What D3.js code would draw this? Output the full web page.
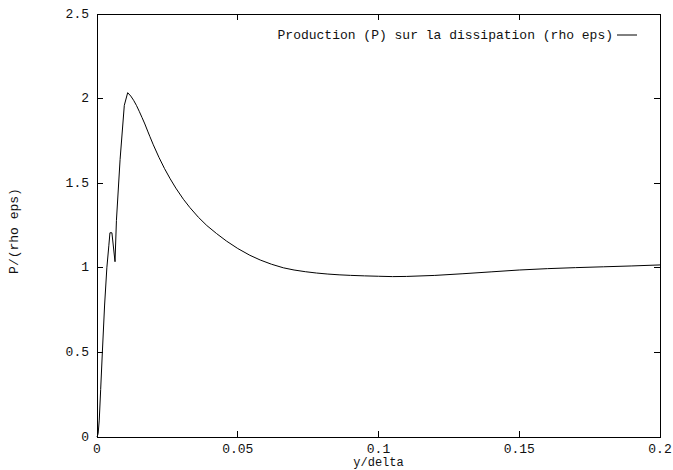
<!DOCTYPE html>
<html>
<head>
<meta charset="utf-8">
<script src="https://cdn.jsdelivr.net/npm/d3@7"></script>
<style>
  html, body { margin: 0; padding: 0; background: #fff; }
  svg text { font-family: "Liberation Mono", "Courier New", monospace; font-size: 13px; fill: #111; }
</style>
</head>
<body>
<svg id="chart" width="673" height="470"></svg>
<script>
const xTicks = [0, 0.05, 0.1, 0.15, 0.2];
const xTickLabels = ["0", "0.05", "0.1", "0.15", "0.2"];
const yTicks = [0, 0.5, 1, 1.5, 2, 2.5];
const yTickLabels = ["0", "0.5", "1", "1.5", "2", "2.5"];
const seriesName = "Production (P) sur la dissipation (rho eps)";
const xLabel = "y/delta";
const yLabel = "P/(rho eps)";

const yDelta = [0, 0.0004, 0.0008, 0.0013, 0.0019, 0.0027, 0.0035, 0.0042, 0.0046, 0.0053, 0.0064,
  0.0069, 0.0082, 0.0097, 0.0109, 0.012, 0.013, 0.014, 0.015, 0.016, 0.017, 0.018, 0.0188,
  0.020, 0.022, 0.024, 0.026, 0.028, 0.0307, 0.033, 0.036, 0.039, 0.0425, 0.046, 0.050,
  0.0543, 0.058, 0.062, 0.0662, 0.070, 0.074, 0.078, 0.082, 0.086, 0.090, 0.095, 0.1, 0.105, 0.11,
  0.12, 0.13, 0.14, 0.15, 0.16, 0.17, 0.18, 0.19, 0.2];
const ratio = [0, 0.02, 0.1, 0.28, 0.5, 0.78, 1.0, 1.13, 1.207, 1.207, 1.036,
  1.28, 1.64, 1.96, 2.035, 2.015, 1.99, 1.96, 1.925, 1.888, 1.85, 1.808, 1.775,
  1.727, 1.653, 1.586, 1.526, 1.471, 1.405, 1.356, 1.299, 1.25, 1.202, 1.158, 1.114,
  1.074, 1.046, 1.021, 1.0, 0.987, 0.977, 0.969, 0.963, 0.9585, 0.9553, 0.9523, 0.950, 0.948, 0.949,
  0.955, 0.965, 0.976, 0.987, 0.995, 1.001, 1.006, 1.011, 1.017];

const svg = d3.select("#chart");
const L = 97, R = 660, T = 14, B = 437;
const x = d3.scaleLinear().domain([0, 0.2]).range([L, R]);
const y = d3.scaleLinear().domain([0, 2.5]).range([B, T]);
const tick = 6;

// ticks (inner, mirrored)
const g = svg.append("g").attr("stroke", "#000").attr("stroke-width", 1).attr("shape-rendering", "crispEdges");
xTicks.forEach(v => {
  g.append("line").attr("x1", x(v)).attr("x2", x(v)).attr("y1", B).attr("y2", B - tick);
  g.append("line").attr("x1", x(v)).attr("x2", x(v)).attr("y1", T).attr("y2", T + tick);
});
yTicks.forEach(v => {
  g.append("line").attr("x1", L).attr("x2", L + tick).attr("y1", y(v)).attr("y2", y(v));
  g.append("line").attr("x1", R).attr("x2", R - tick).attr("y1", y(v)).attr("y2", y(v));
});

// border
svg.append("rect").attr("x", L).attr("y", T).attr("width", R - L).attr("height", B - T)
  .attr("fill", "none").attr("stroke", "#000").attr("stroke-width", 1).attr("shape-rendering", "crispEdges");

// tick labels
xTicks.forEach((v, i) => {
  svg.append("text").attr("x", x(v)).attr("y", 449).attr("text-anchor", "middle")
    .attr("dominant-baseline", "central").text(xTickLabels[i]);
});
yTicks.forEach((v, i) => {
  svg.append("text").attr("x", 89).attr("y", y(v)).attr("text-anchor", "end")
    .attr("dominant-baseline", "central").text(yTickLabels[i]);
});

// axis labels
svg.append("text").attr("x", (L + R) / 2).attr("y", 463).attr("text-anchor", "middle")
  .attr("dominant-baseline", "central").style("font-size", "12px").text(xLabel);
svg.append("text").attr("transform", "translate(14,231) rotate(-90)").attr("text-anchor", "middle")
  .attr("dominant-baseline", "central").text(yLabel);

// curve
const line = d3.line().x((d, i) => x(yDelta[i])).y(d => y(d));
svg.append("path").datum(ratio).attr("d", line).attr("fill", "none")
  .attr("stroke", "#000").attr("stroke-width", 1);

// legend
svg.append("text").attr("x", 613).attr("y", 35).attr("text-anchor", "end")
  .attr("dominant-baseline", "central").text(seriesName);
svg.append("line").attr("x1", 617).attr("x2", 637).attr("y1", 35).attr("y2", 35)
  .attr("stroke", "#000").attr("stroke-width", 1);
</script>
</body>
</html>
